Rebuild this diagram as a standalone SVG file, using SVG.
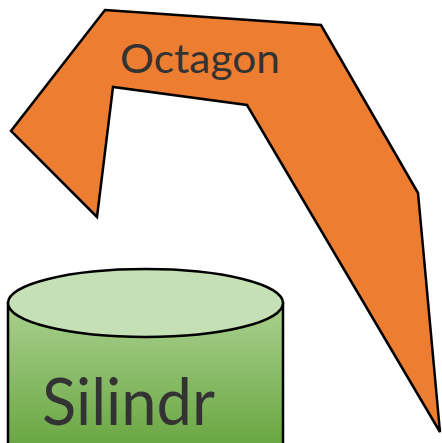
<svg xmlns="http://www.w3.org/2000/svg" width="442" height="443" viewBox="0 0 442 443">
<style>
.outline{stroke:#000;stroke-width:2.5;stroke-linejoin:miter}
.label{font-family:"Comic Sans MS","Lato","Noto Sans",sans-serif;fill:#333333}
</style>
<defs>
<linearGradient id="gBody" x1="0" y1="0" x2="0" y2="1">
<stop offset="0" stop-color="#a9d18e"/>
<stop offset="1" stop-color="#6aa743"/>
</linearGradient>
</defs>
<rect width="442" height="443" fill="#ffffff"/>
<g id="octagon">
<polygon class="outline" fill="#ed7d31" points="105,10 321,25 418,193 440,432 247,105 113,87 97,217 11,131"/>
<text class="label" x="120" y="73" font-size="40" textLength="160" lengthAdjust="spacingAndGlyphs">Octagon</text>
</g>
<g id="silindr">
<path class="outline" fill="url(#gBody)" d="M8,303 L8,445 L283,445 L283,303 Z"/>
<ellipse class="outline" cx="145.5" cy="303" rx="137.5" ry="34" fill="#c5e0b4"/>
<text class="label" x="42" y="425" font-size="66" textLength="173" lengthAdjust="spacingAndGlyphs">Silindr</text>
</g>
<g id="connectors"/>
</svg>
